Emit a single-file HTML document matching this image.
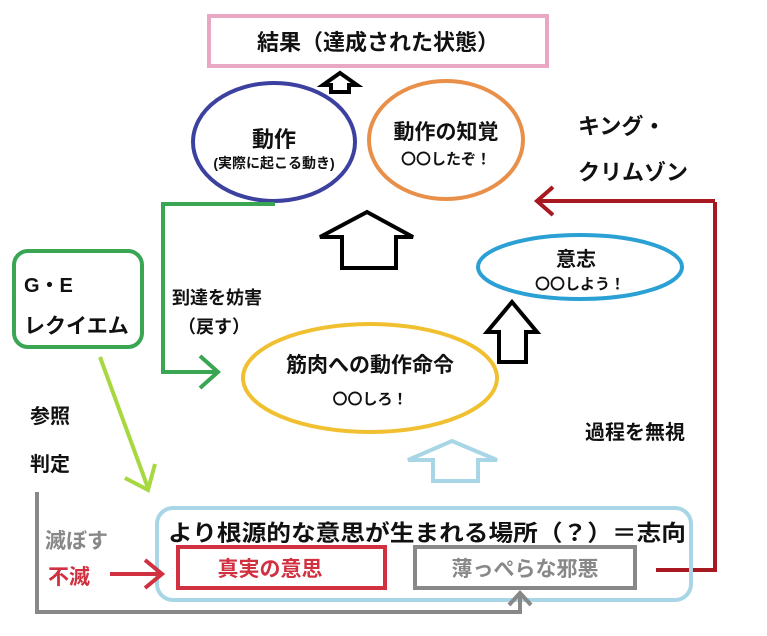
<!DOCTYPE html>
<html><head><meta charset="utf-8"><style>
body{margin:0;background:#fff;}
svg{display:block;}
text{font-family:"Liberation Sans","Noto Sans CJK JP",sans-serif;font-weight:bold;}
</style></head><body>
<svg width="767" height="636" viewBox="0 0 767 636" xmlns="http://www.w3.org/2000/svg">
<rect x="209" y="16" width="338" height="50" fill="none" stroke="#e8a8c4" stroke-width="4"/>
<text x="378" y="50" font-size="22" text-anchor="middle" fill="#111">結果（達成された状態）</text>
<polygon points="340,73 357,85 349,85 349,92 331,92 331,85 323,85" fill="#fff" stroke="#000" stroke-width="4" stroke-linejoin="miter"/>
<ellipse cx="274" cy="142" rx="81" ry="59" fill="none" stroke="#3c41a0" stroke-width="4"/>
<text x="274" y="147" font-size="22" text-anchor="middle" fill="#111">動作</text>
<text x="274" y="168" font-size="14" text-anchor="middle" fill="#111">(実際に起こる動き)</text>
<ellipse cx="446" cy="140" rx="77" ry="59" fill="none" stroke="#e8904a" stroke-width="4"/>
<text x="446" y="139" font-size="21" text-anchor="middle" fill="#111">動作の知覚</text>
<text x="446" y="164" font-size="15" text-anchor="middle" fill="#111" font-weight="normal">〇〇したぞ！</text>
<text x="578" y="134" font-size="22" fill="#111">キング・</text>
<text x="578" y="180" font-size="22" fill="#111">クリムゾン</text>
<polygon points="367,212 413,237 396,237 396,268 342,268 342,237 320,237" fill="#fff" stroke="#000" stroke-width="4"/>
<polyline points="275,204 163,204 163,372 218,372" fill="none" stroke="#3aa552" stroke-width="4"/>
<polyline points="200,356 218,372 200,388" fill="none" stroke="#3aa552" stroke-width="4"/>
<rect x="14" y="251" width="128" height="96" rx="14" fill="none" stroke="#3aa552" stroke-width="4"/>
<text x="24" y="292" font-size="20" fill="#111">G・E</text>
<text x="24" y="333" font-size="21" fill="#111">レクイエム</text>
<text x="172" y="304" font-size="18" fill="#111">到達を妨害</text>
<text x="178" y="333" font-size="18" fill="#111">（戻す）</text>
<ellipse cx="580" cy="267" rx="102" ry="32" fill="none" stroke="#2aa0d4" stroke-width="4"/>
<text x="576" y="266" font-size="20" text-anchor="middle" fill="#111">意志</text>
<text x="580" y="289" font-size="15" text-anchor="middle" fill="#111" font-weight="normal">〇〇しよう！</text>
<polygon points="512,302 537,332 526,332 526,362 499,362 499,332 487,332" fill="#fff" stroke="#000" stroke-width="4"/>
<polyline points="715,202 715,570 656,570" fill="none" stroke="#a81820" stroke-width="4"/>
<line x1="715" y1="201" x2="537" y2="201" stroke="#a81820" stroke-width="4"/>
<polyline points="553,187 537,201 553,215" fill="none" stroke="#a81820" stroke-width="4"/>
<text x="585" y="439" font-size="20" fill="#111">過程を無視</text>
<ellipse cx="370" cy="378" rx="127" ry="54" fill="none" stroke="#f0c030" stroke-width="4"/>
<text x="370" y="372" font-size="21" text-anchor="middle" fill="#111">筋肉への動作命令</text>
<text x="370" y="404" font-size="15" text-anchor="middle" fill="#111" font-weight="normal">〇〇しろ！</text>
<polygon points="452,441 497,460 478,460 478,481 433,481 433,460 408,460" fill="#fff" stroke="#a8d6e6" stroke-width="4"/>
<line x1="100" y1="357" x2="148" y2="488" stroke="#a8d840" stroke-width="4"/>
<polyline points="125,478 148,490 155,464" fill="none" stroke="#a8d840" stroke-width="4"/>
<text x="30" y="423" font-size="20" fill="#111">参照</text>
<text x="30" y="471" font-size="20" fill="#111">判定</text>
<rect x="157" y="508" width="534" height="92" rx="16" fill="none" stroke="#a8d6e6" stroke-width="4"/>
<text x="168" y="541" font-size="22.5" fill="#111" textLength="518" lengthAdjust="spacingAndGlyphs">より根源的な意思が生まれる場所（？）＝志向</text>
<rect x="178" y="547" width="207" height="41" fill="none" stroke="#d03040" stroke-width="4"/>
<text x="270" y="576" font-size="21" text-anchor="middle" fill="#d03040">真実の意思</text>
<rect x="415" y="547" width="220" height="41" fill="none" stroke="#888" stroke-width="4"/>
<text x="525" y="576" font-size="21" text-anchor="middle" fill="#888">薄っぺらな邪悪</text>
<text x="45" y="548" font-size="21" fill="#888">滅ぼす</text>
<text x="48" y="584" font-size="21" fill="#d03040">不滅</text>
<line x1="110" y1="574" x2="160" y2="574" stroke="#d03040" stroke-width="4"/>
<polyline points="145,560 162,574 145,588" fill="none" stroke="#d03040" stroke-width="4"/>
<polyline points="37,492 37,612 520,612 520,593" fill="none" stroke="#888" stroke-width="4"/>
<polyline points="509,605 520,593 531,605" fill="none" stroke="#888" stroke-width="4"/>
</svg>
</body></html>
